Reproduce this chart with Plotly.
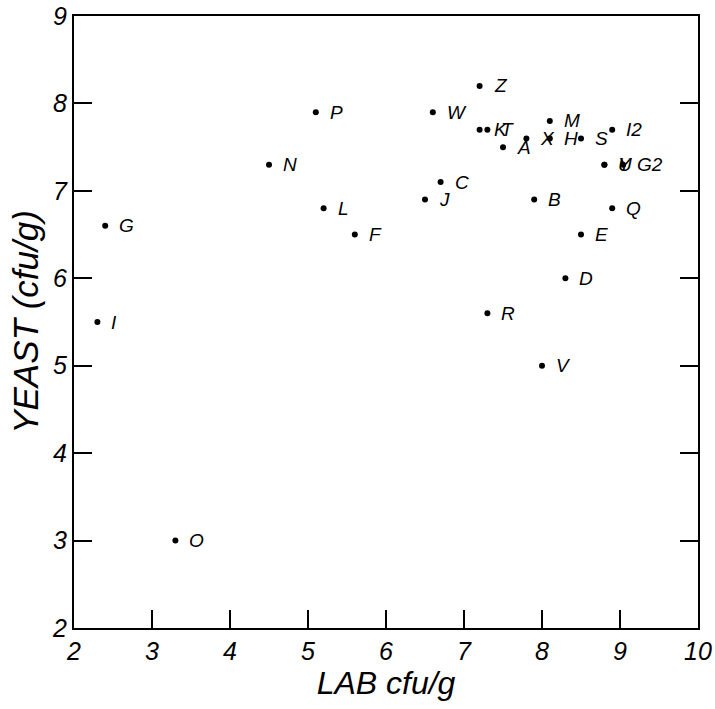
import plotly.graph_objects as go

labels = ["Z", "W", "P", "K", "T", "A", "X", "M", "H", "S", "I2", "U", "Y", "G2",
          "C", "J", "B", "Q", "E", "N", "L", "F", "G", "I", "D", "R", "V", "O"]
lab_cfu = [7.2, 6.6, 5.1, 7.2, 7.3, 7.5, 7.8, 8.1, 8.1, 8.5, 8.9, 8.8, 8.8, 9.04,
           6.7, 6.5, 7.9, 8.9, 8.5, 4.5, 5.2, 5.6, 2.4, 2.3, 8.3, 7.3, 8.0, 3.3]
yeast_cfu = [8.2, 7.9, 7.9, 7.7, 7.7, 7.5, 7.6, 7.8, 7.6, 7.6, 7.7, 7.3, 7.3, 7.3,
             7.1, 6.9, 6.9, 6.8, 6.5, 7.3, 6.8, 6.5, 6.6, 5.5, 6.0, 5.6, 5.0, 3.0]

x_ticks = [2, 3, 4, 5, 6, 7, 8, 9, 10]
y_ticks = [2, 3, 4, 5, 6, 7, 8, 9]

FONT = "Liberation Sans, Arial, sans-serif"

fig = go.Figure()
fig.add_trace(go.Scatter(
    x=lab_cfu, y=yeast_cfu, mode="markers",
    marker=dict(color="black", size=6),
    hoverinfo="skip", showlegend=False,
))

for lx, ly, lt in zip(lab_cfu, yeast_cfu, labels):
    fig.add_annotation(
        x=lx, y=ly, text=f"<i>{lt}</i>", showarrow=False,
        xanchor="left", yanchor="middle", xshift=12,
        font=dict(family=FONT, size=19, color="black"),
    )

axis_common = dict(
    showgrid=False, zeroline=False, showline=True, linecolor="black", linewidth=2,
    ticks="inside", ticklen=18, tickwidth=1.5, tickcolor="black",
    tickfont=dict(family=FONT, size=25, color="black", style="italic"),
    automargin=False,
)

fig.update_xaxes(
    range=[2, 10], tickvals=x_ticks, ticktext=[str(v) for v in x_ticks],
    mirror=True,
    title=dict(text="LAB cfu/g", font=dict(family=FONT, size=32, color="black", style="italic"),
               standoff=2),
    **axis_common,
)
fig.update_yaxes(
    range=[2, 9], tickvals=y_ticks, ticktext=[str(v) for v in y_ticks],
    mirror="ticks",
    title=dict(text="YEAST (cfu/g)", font=dict(family=FONT, size=35, color="black", style="italic"),
               standoff=3),
    **axis_common,
)

fig.update_layout(
    width=715, height=709,
    margin=dict(l=74, r=17, t=16, b=81),
    plot_bgcolor="white", paper_bgcolor="white",
    font=dict(family=FONT, color="black"),
)

fig.write_html("out.html")
